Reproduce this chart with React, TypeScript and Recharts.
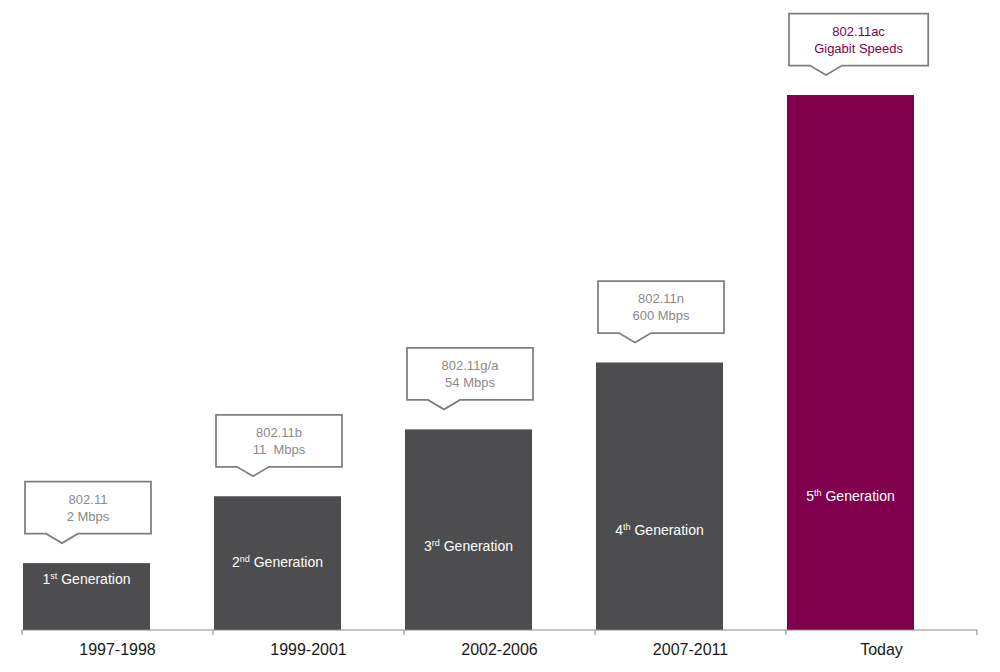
import { Bar, BarChart, XAxis, YAxis } from "recharts"

const periods = ["1997-1998", "1999-2001", "2002-2006", "2007-2011", "Today"]
const generationLevels = [1, 2, 3, 4, 8]
const generationNumbers = [1, 2, 3, 4, 5]
const ordinals = ["st", "nd", "rd", "th", "th"]
const standards = ["802.11", "802.11b", "802.11g/a", "802.11n", "802.11ac"]
const speeds = ["2 Mbps", "11  Mbps", "54 Mbps", "600 Mbps", "Gigabit Speeds"]
// where the white generation caption sits, in bar units
const captionLevels = [0.77, 1.01, 1.26, 1.5, 2.0]

const data = periods.map((period, i) => ({
    period,
    level: generationLevels[i],
}))

const WIDTH = 1000
const HEIGHT = 672
const margin = { top: 95, right: 23, bottom: 0, left: 22 }
const FONT = "'Liberation Sans', Arial, sans-serif"
const BAR_GRAY = "#4d4d4f"
const BAR_MAROON = "#80004e"
const CALLOUT_TEXT = "#8a8a8a"
const AXIS_GRAY = "#878787"
const highlightIndex = periods.length - 1
const bandWidth = (WIDTH - margin.left - margin.right) / periods.length

function PeriodTick(props: any) {
    const { x, y, payload, index } = props
    const half = bandWidth / 2
    return (
        <g>
            <line x1={x - half} x2={x - half} y1={y} y2={y + 5} stroke={AXIS_GRAY} />
            {index === periods.length - 1 && (
                <line x1={x + half} x2={x + half} y1={y} y2={y + 5} stroke={AXIS_GRAY} />
            )}
            <text x={x} y={y + 25} textAnchor="middle" fontSize={16} fill="#1a1a1a" fontFamily={FONT}>
                {payload.value}
            </text>
        </g>
    )
}

function GenerationBar(props: any) {
    const { x, y, width, height, index } = props
    const highlight = index === highlightIndex
    const bottom = y + height
    const unit = height / generationLevels[index]
    const captionY = bottom - captionLevels[index] * unit

    // callout box
    const lines = [standards[index], speeds[index]]
    const textW = Math.max(...lines.map((l) => l.length * 6.8))
    const w = Math.max(126, textW + 44)
    const h = 52
    const left = x + 2
    const tipX = left + 37
    const tipY = y - 20
    const boxBottom = tipY - 9.5
    const top = boxBottom - h
    const d = `M${left},${top} H${left + w} V${boxBottom} H${tipX + 16} L${tipX},${tipY} L${tipX - 16},${boxBottom} H${left} Z`

    return (
        <g>
            <rect x={x} y={y} width={width} height={height} fill={highlight ? BAR_MAROON : BAR_GRAY} />
            <text
                x={x + width / 2}
                y={captionY + 5}
                textAnchor="middle"
                fontSize={14}
                fill="#ffffff"
                fontFamily={FONT}
            >
                <tspan>{generationNumbers[index]}</tspan>
                <tspan fontSize={9} dy={-5}>{ordinals[index]}</tspan>
                <tspan dy={5}>{"\u00a0Generation"}</tspan>
            </text>
            <path d={d} fill="#ffffff" stroke="#7f7f7f" strokeWidth={1.75} />
            <text
                x={left + w / 2}
                y={top + 22}
                textAnchor="middle"
                fontSize={13}
                fill={highlight ? BAR_MAROON : CALLOUT_TEXT}
                fontFamily={FONT}
                style={{ whiteSpace: "pre" }}
            >
                <tspan x={left + w / 2}>{lines[0]}</tspan>
                <tspan x={left + w / 2} dy={17}>{lines[1]}</tspan>
            </text>
        </g>
    )
}

export default function App() {
    return (
        <div style={{ position: "absolute", left: 0, top: 0, width: WIDTH, height: HEIGHT, background: "#fff" }}>
            <BarChart width={WIDTH} height={HEIGHT} data={data} margin={margin} barGap={1}>
                <XAxis
                    dataKey="period"
                    height={42}
                    tickLine={false}
                    tickSize={0}
                    tickMargin={0}
                    axisLine={{ stroke: AXIS_GRAY }}
                    tick={<PeriodTick />}
                    interval={0}
                />
                <YAxis hide domain={[0, 8]} />
                <Bar dataKey="level" barSize={127} shape={<GenerationBar />} isAnimationActive={false} />
                <Bar dataKey="spacer" barSize={62} fill="transparent" isAnimationActive={false} />
            </BarChart>
        </div>
    )
}
